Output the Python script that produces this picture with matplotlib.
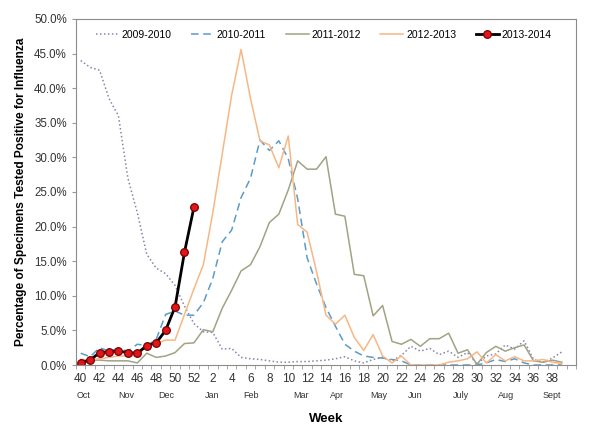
import numpy as np
import matplotlib
matplotlib.use("Agg")
import matplotlib.pyplot as plt
from matplotlib.ticker import FuncFormatter, FixedLocator

plt.rcParams["font.family"] = ["Liberation Sans", "DejaVu Sans"]

# week order on the x axis (season runs from week 40 to week 39)
weeks = list(range(40, 53)) + list(range(1, 40))

# percent positive
s2009 = [44.0, 43.0, 42.6, 38.5, 36.0, 27.0, 22.0, 16.0, 14.0, 13.2,
         11.5, 8.5, 6.0, 4.8, 4.7, 2.3, 2.4, 1.1, 0.9, 0.8,
         0.6, 0.4, 0.4, 0.5, 0.5, 0.6, 0.7, 0.9, 1.2, 0.6,
         0.3, 0.8, 1.1, 0.6, 1.4, 2.7, 2.0, 2.4, 1.5, 2.0,
         1.1, 1.8, 0.1, 1.3, 1.6, 2.9, 2.3, 3.5, 0.8, 0.4,
         1.0, 1.9]
s2010 = [1.7, 1.2, 2.5, 2.0, 2.4, 2.0, 3.0, 2.8, 3.7, 7.3,
         7.8, 7.2, 7.2, 9.0, 12.5, 17.8, 19.5, 24.2, 27.0, 32.5,
         31.0, 32.4, 29.8, 24.0, 15.5, 11.7, 8.3, 5.6, 3.0, 2.0,
         1.3, 1.1, 1.0, 0.8, 0.6, 0.0, 0.0, 0.0, 0.0, 0.0,
         0.0, 0.0, 0.0, 0.3, 0.8, 0.5, 0.9, 0.3, 0.0, 0.0,
         0.0, 0.0]
s2011 = [0.8, 0.7, 0.7, 0.6, 0.6, 0.6, 0.3, 1.7, 1.1, 1.3,
         1.8, 3.1, 3.2, 5.1, 4.8, 8.2, 10.8, 13.6, 14.5, 17.1,
         20.6, 21.8, 25.3, 29.5, 28.3, 28.3, 30.1, 21.8, 21.5, 13.1,
         12.9, 7.1, 8.6, 3.4, 3.0, 3.7, 2.7, 3.8, 3.8, 4.6,
         1.7, 2.2, 0.1, 1.8, 2.7, 2.0, 2.5, 2.9, 0.6, 0.4,
         0.7, 0.4]
s2012 = [0.6, 0.8, 0.9, 1.1, 1.3, 1.3, 1.4, 2.7, 3.1, 3.6,
         3.6, 7.3, 11.0, 14.5, 22.0, 30.5, 39.0, 45.6, 38.5, 32.4,
         31.8, 28.5, 33.1, 20.3, 19.2, 13.5, 7.2, 5.9, 7.2, 4.0,
         2.1, 4.4, 1.3, 0.3, 1.3, 0.0, 0.0, 0.0, 0.0, 0.4,
         0.6, 0.9, 1.9, 0.3, 1.5, 0.6, 1.2, 0.6, 0.6, 0.8,
         0.4, 0.2]
s2013 = [0.3, 0.7, 1.8, 1.9, 2.0, 1.8, 1.7, 2.8, 3.2, 5.0,
         8.4, 16.3, 22.8]

months = ["Oct", "Nov", "Dec", "Jan", "Feb", "Mar", "Apr", "May", "Jun",
          "July", "Aug", "Sept"]
month_pos = [0.3, 4.8, 9.1, 13.9, 18.0, 23.3, 27.2, 31.6, 35.4, 40.3, 45.1, 49.9]


def plot():
    fig = plt.figure(figsize=(6, 4.36), dpi=100)
    ax = fig.add_axes([76 / 600, 1 - 365 / 436, 500 / 600, 346 / 436])

    x = np.arange(len(weeks))
    ax.plot(x, s2009, color="#8585ad", lw=1.1, linestyle=(0, (1, 1.6)), label="2009-2010")
    ax.plot(x, s2010, color="#5b9bc9", lw=1.1, linestyle=(0, (5, 3)), label="2010-2011")
    ax.plot(x, s2011, color="#a2a284", lw=1.1, label="2011-2012")
    ax.plot(x, s2012, color="#f7b785", lw=1.1, label="2012-2013")
    ax.plot(x[:len(s2013)], s2013, color="black", lw=2, marker="o", ms=5.5,
            mfc="#e0161b", mec="#7a0000", mew=0.9, label="2013-2014")

    ax.set_xlim(-0.5, 52.5)
    ax.set_ylim(0, 50)

    ax.set_yticks(np.arange(0, 51, 5))
    ax.yaxis.set_major_formatter(FuncFormatter(lambda v, _: f"{v:.1f}%"))

    ax.set_xticks(x[::2])
    ax.set_xticklabels([str(w) for w in weeks[::2]])
    ax.xaxis.set_minor_locator(FixedLocator(np.arange(-0.5, 53, 1)))
    ax.tick_params(axis="x", which="major", length=0, pad=6, labelsize=8.5, colors="#333333")
    ax.tick_params(axis="x", which="minor", length=3, color="#999999")
    ax.tick_params(axis="y", length=3, color="#999999", labelsize=8.3, labelcolor="#333333")

    for side in ax.spines.values():
        side.set_color("#8c8c8c")

    for name, pos in zip(months, month_pos):
        ax.text(pos, -0.087, name, transform=ax.get_xaxis_transform(),
                ha="center", va="center", fontsize=6.5, color="#333333")

    ax.set_ylabel("Percentage of Specimens Tested Positive for Influenza",
                  fontsize=8.6, fontweight="bold")
    ax.yaxis.set_label_coords(-0.097, 0.5)
    ax.set_xlabel("Week", fontsize=9.5, fontweight="bold")
    ax.xaxis.set_label_coords(0.5, -0.138)

    ax.legend(loc="center", bbox_to_anchor=(0.495, 0.954), ncol=5, frameon=False,
              fontsize=7.5, handlelength=2.2, columnspacing=1.9, handletextpad=0.25)

    fig.savefig("out.png", dpi=100)


if __name__ == "__main__":
    plot()
